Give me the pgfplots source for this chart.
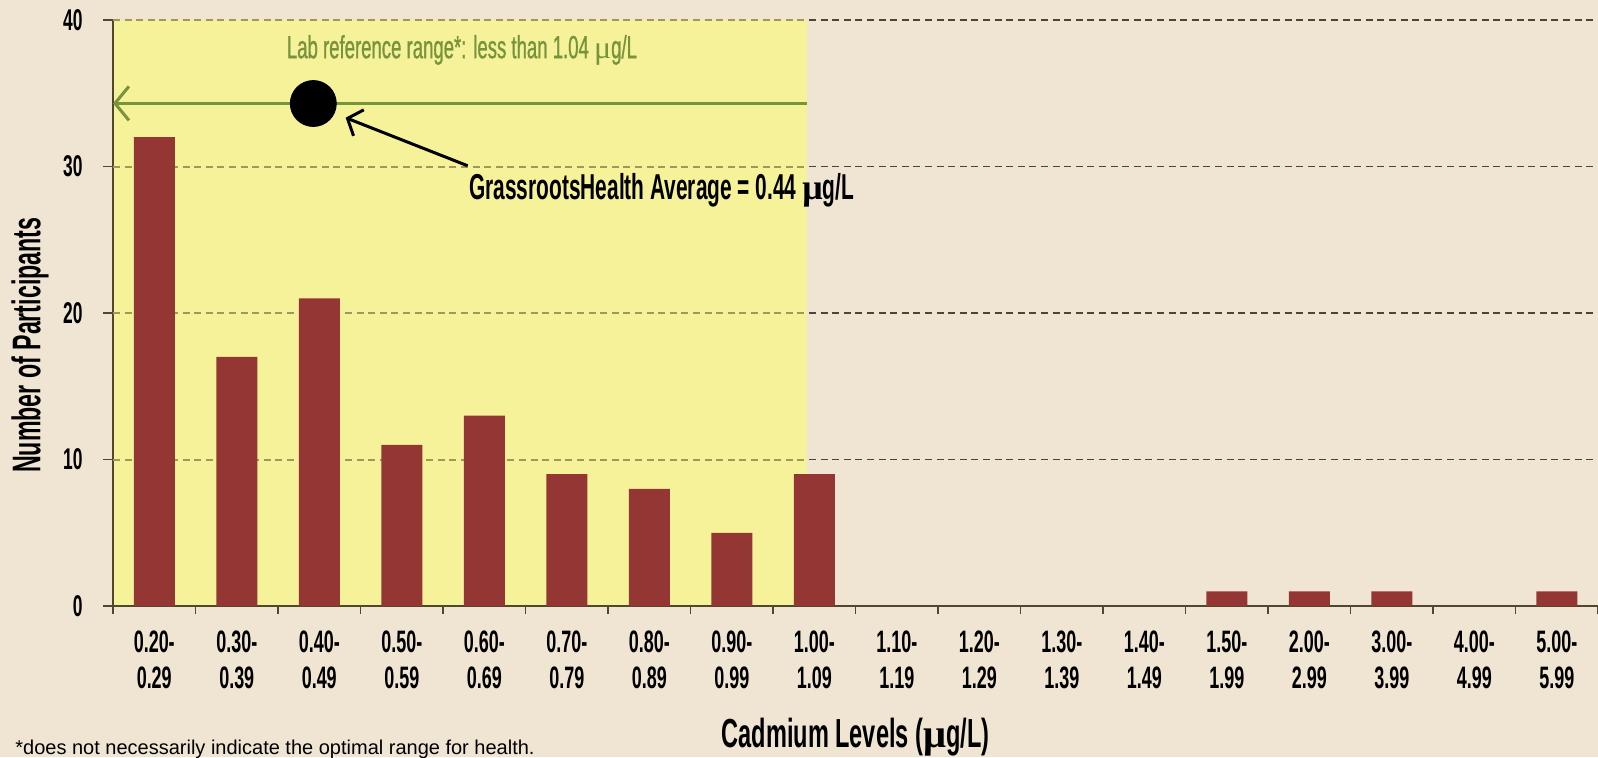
\documentclass[border=0pt]{standalone}
\usepackage{fontspec}
\setmainfont{Liberation Sans}[FakeStretch=0.58]
\newfontfamily\medfont{Liberation Sans}[FakeStretch=0.58, FakeBold=0.8]
\newfontfamily\arialfont{Liberation Sans}
\newfontfamily\mufont{Liberation Serif}
\usepackage{pgfplots}
\pgfplotsset{compat=1.18}
\usetikzlibrary{arrows.meta}
\definecolor{bgc}{RGB}{240,229,211}
\definecolor{yel}{RGB}{246,242,154}
\definecolor{barc}{RGB}{148,54,52}
\definecolor{grn}{RGB}{119,147,60}
\definecolor{axc}{RGB}{79,72,46}
\definecolor{gridc}{RGB}{74,69,53}
\definecolor{gridy}{RGB}{160,152,90}
\begin{document}
\begin{tikzpicture}
\begin{axis}[
  set layers,
  at={(0,0)}, anchor=south west,
  scale only axis, width=742.5pt, height=293pt,
  xmin=-0.5, xmax=17.5, ymin=0, ymax=40,
  axis lines=left,
  axis line style={-, draw=axc, line width=1pt},
  xtick={0,...,17},
  xticklabels={{0.20-\\0.29},{0.30-\\0.39},{0.40-\\0.49},{0.50-\\0.59},{0.60-\\0.69},{0.70-\\0.79},{0.80-\\0.89},{0.90-\\0.99},{1.00-\\1.09},{1.10-\\1.19},{1.20-\\1.29},{1.30-\\1.39},{1.40-\\1.49},{1.50-\\1.99},{2.00-\\2.99},{3.00-\\3.99},{4.00-\\4.99},{5.00-\\5.99}},
  minor xtick={-0.5,0.5,...,17.5},
  major x tick style={draw=none},
  minor x tick style={draw=axc, line width=0.8pt},
  major y tick style={draw=axc, line width=0.8pt},
  tick align=outside,
  major tick length=5pt, minor tick length=4pt,
  ytick={0,10,20,30,40},
  ymajorgrids,
  major grid style={draw=gridc, line width=0.9pt, dash pattern=on 3.5pt off 2.3pt},
  /pgf/number format/assume math mode=true,
  xticklabel style={font=\bfseries\fontsize{15.5}{18}\selectfont, align=center, anchor=north, inner sep=0pt, yshift=-7pt},
  yticklabel style={font=\bfseries\fontsize{15}{18}\selectfont, anchor=east, inner sep=0pt, xshift=-10pt},
  xlabel={Cadmium Levels ({\mufont μ}g/L)},
  ylabel={Number of Participants},
  every axis x label/.style={at={(axis description cs:0.5,0)}, anchor=center, yshift=-65.5pt, font=\bfseries\fontsize{20.3}{24}\selectfont},
  every axis y label/.style={at={(axis description cs:-0.0559,0.445)}, rotate=90, anchor=center, font=\bfseries\fontsize{20}{24}\selectfont},
  clip=false,
  unbounded coords=discard,
]
% page background
\begin{pgfonlayer}{axis background}
\fill[bgc] (rel axis cs:-0.07609,-0.25768) rectangle (rel axis cs:1,1.03413);
\end{pgfonlayer}
% yellow reference region
\begin{pgfonlayer}{axis ticks}
\fill[yel] (axis cs:-0.5,0) rectangle (axis cs:7.908,40);
\end{pgfonlayer}
% grid seen through the yellow region
\addplot[gridy, line width=1pt, dash pattern=on 3.5pt off 2.3pt, forget plot] coordinates {(-0.5,10) (7.908,10)};
\addplot[gridy, line width=1pt, dash pattern=on 3.5pt off 2.3pt, forget plot] coordinates {(-0.5,20) (7.908,20)};
\addplot[gridy, line width=1pt, dash pattern=on 3.5pt off 2.3pt, forget plot] coordinates {(-0.5,30) (7.908,30)};
\addplot[gridy, line width=1pt, dash pattern=on 3.5pt off 2.3pt, forget plot] coordinates {(-0.5,40) (7.908,40)};
% bars (zero-count bins are not drawn)
\addplot[ybar, bar width=20.5pt, fill=barc, draw=none, y filter/.expression={y==0 ? nan : y}] coordinates {
(0,32) (1,17) (2,21) (3,11) (4,13) (5,9) (6,8) (7,5) (8,9) (9,0) (10,0) (11,0) (12,0) (13,1) (14,1) (15,1) (16,0) (17,1)};
% lab reference line
\addplot[grn, line width=1.5pt, {Straight Barb[length=7pt,width=17pt,line width=1.5pt]}-] coordinates {(-0.5,34.31) (7.908,34.31)};
% average marker
\addplot[only marks, mark=*, mark size=11.5pt, mark options={fill=black, draw=black}] coordinates {(1.928,34.3)};
% annotation arrow
\addplot[black, line width=1.5pt, -{Straight Barb[length=6pt,width=14pt,line width=1.5pt]}] coordinates {(3.799,30.05) (2.32,33.33)};
\node[grn, font=\medfont\fontsize{16}{19}\selectfont, anchor=center] at (axis cs:3.73,37.95) {Lab reference range*: less than 1.04 {\mufont μ}g/L};
\node[black, font=\bfseries\fontsize{18}{21}\selectfont, anchor=west, inner sep=0pt] at (axis cs:3.815,28.4) {GrassrootsHealth Average = 0.44 {\mufont μ}g/L};
\node[anchor=base west, inner sep=0pt, font=\arialfont\fontsize{10}{12}\selectfont] at (axis description cs:-0.066,-0.254) {*does not necessarily indicate the optimal range for health.};
\end{axis}
\pgfresetboundingbox
\useasboundingbox (-56.5pt,-75.5pt) rectangle (742.5pt,303pt);
\end{tikzpicture}
\end{document}
